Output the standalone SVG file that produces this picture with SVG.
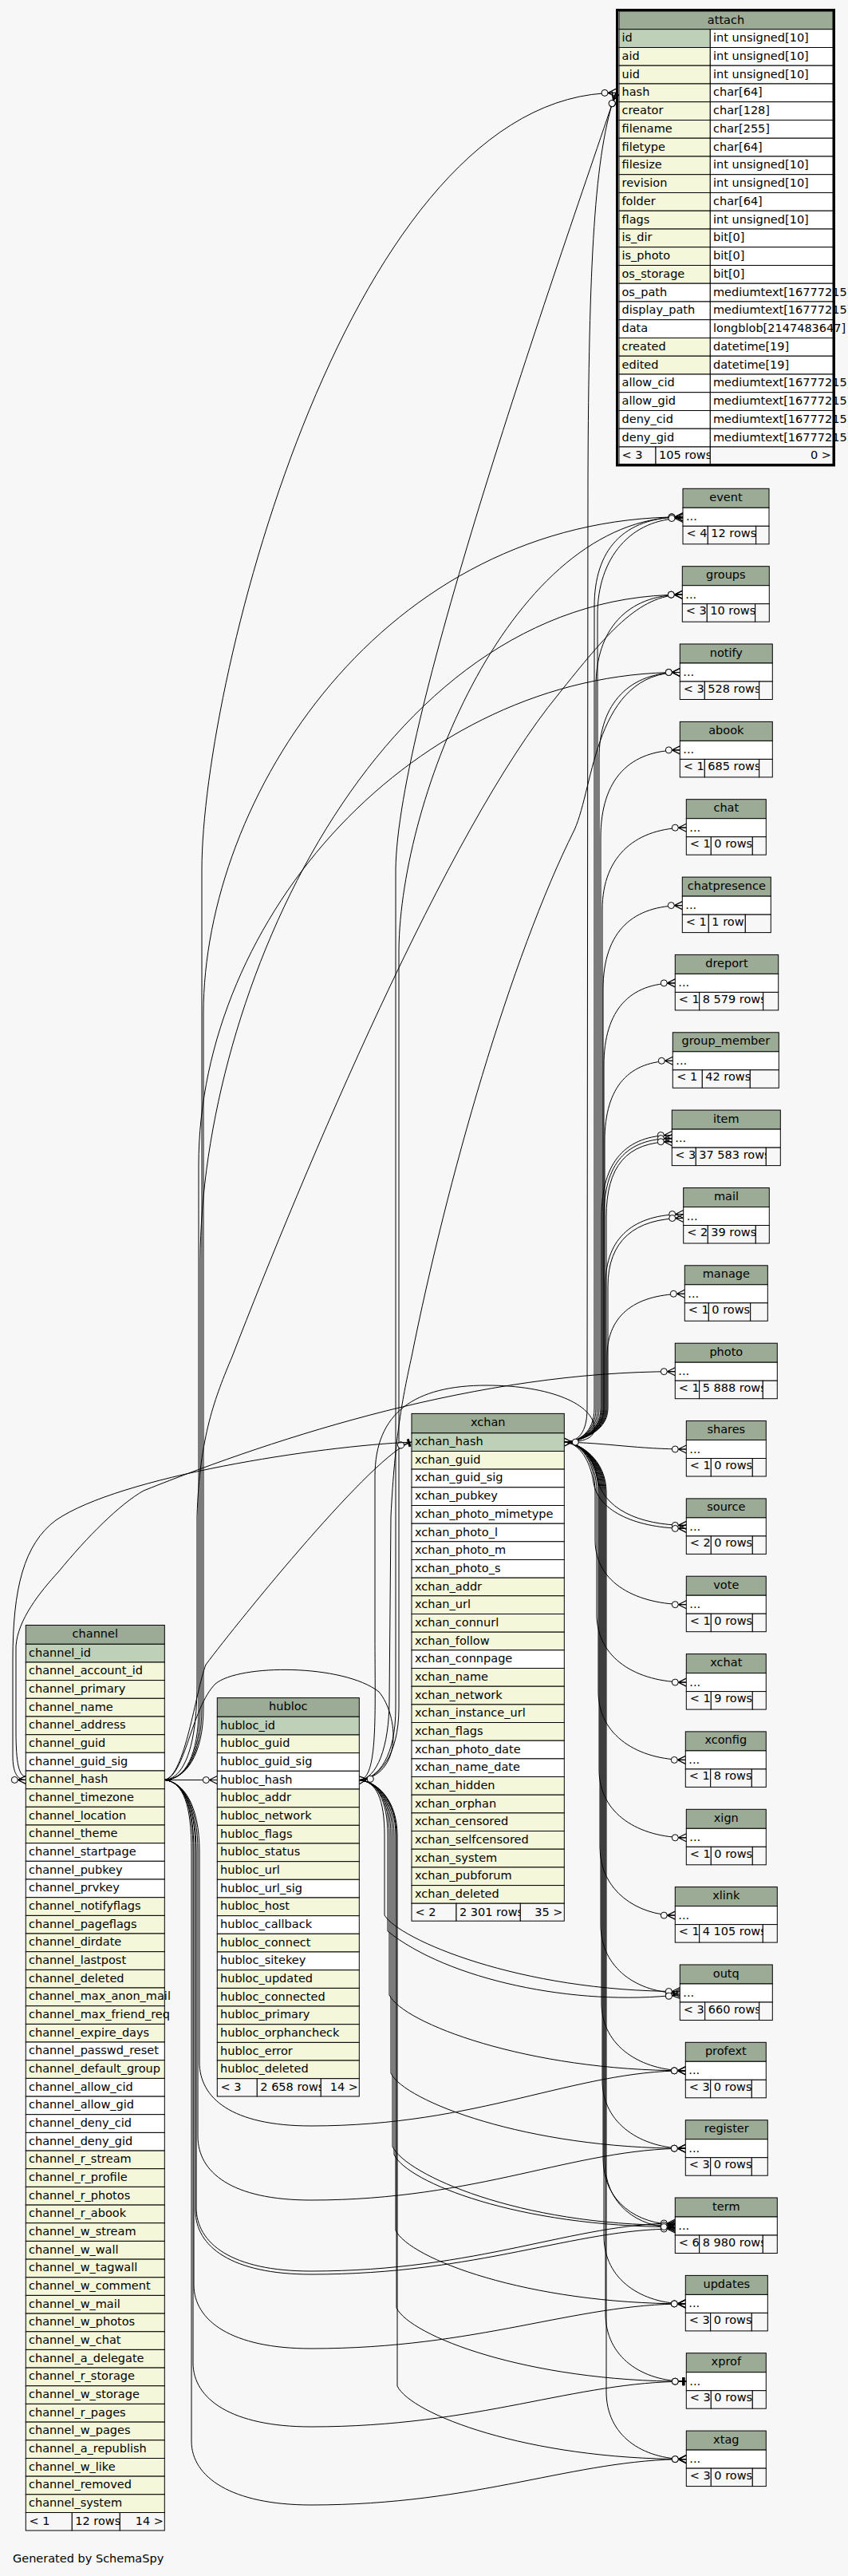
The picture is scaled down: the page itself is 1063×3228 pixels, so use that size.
<svg xmlns="http://www.w3.org/2000/svg" width="1063" height="3228" viewBox="0 0 1063 3228">
<style>
text{font-family:"DejaVu Sans","Liberation Sans",sans-serif;font-size:14.5px;fill:#000}
.c{text-anchor:middle}
.r{text-anchor:end}
.hd,.pk,.ix,.pl,.ft{stroke:#000;stroke-width:1}
.hd{fill:#9bab96}
.pk{fill:#bed1b8}
.ix{fill:#f4f7da}
.pl{fill:#fff}
.ft{fill:#f7f7f7}
.e{fill:none;stroke:#000;stroke-width:1;marker-end:url(#crow)}
.t{fill:none;stroke:#000;stroke-width:1;marker-end:url(#tee)}
.n{fill:none;stroke:#000;stroke-width:1}
</style>
<defs>
<marker id="crow" markerUnits="userSpaceOnUse" markerWidth="22" markerHeight="14" refX="20" refY="7" orient="auto" overflow="visible">
<path d="M10,7 L20,2 M10,7 L20,7 M10,7 L20,12" fill="none" stroke="#000" stroke-width="1.2"/>
<circle cx="6" cy="7" r="4" fill="#f7f7f7" stroke="#000" stroke-width="1"/>
</marker>
<marker id="tee" markerUnits="userSpaceOnUse" markerWidth="22" markerHeight="14" refX="20" refY="7" orient="auto" overflow="visible">
<path d="M10,7 L20,7" fill="none" stroke="#000"/>
<rect x="15" y="2" width="3" height="10" fill="#000" stroke="none"/>
<circle cx="6" cy="7" r="4" fill="#f7f7f7" stroke="#000" stroke-width="1"/>
</marker>
</defs>
<rect x="0" y="0" width="1063" height="3228" fill="#f7f7f7"/>

<g id="connectors">
<path class="e" d="M206.3,2230.4 C232,2230 253,2200 253,2140 L253,1090 C253,850 440,116.4 772,116.4"/>
<path class="e" d="M206.3,2230.4 C232,2230 255,2200 255,2140 L255,1270 C255,1000 480,647.8 856,647.8"/>
<path class="e" d="M206.3,2230.4 C232,2230 251,2200 251,2140 L251,1580 C251,1250 470,745.2 855.3,745.2"/>
<path class="e" d="M206.3,2230.4 C230,2229 247,2190 247,2110 L247,1900 C250,1800 270,1750 291,1700 C380,1470 560,1040 700,870 C760,795 800,745.2 855.3,745.2"/>
<path class="e" d="M206.3,2230.4 C232,2230 249,2200 249,2140 L249,1460 C249,1150 520,842.5 852.3,842.5"/>
<path class="e" d="M450.3,2230.6 C475,2229 496,2200 496,2140 L496,1090 C498,900 700,330 772,116.4"/>
<path class="e" d="M450.3,2230.6 C475,2229 500,2200 500,2140 L500,1190 C502,1000 640,647.8 856,647.8"/>
<path class="e" d="M450.3,2230.6 C472,2229 488,2190 488,2130 L490,1900 C495,1800 505,1750 516,1700 C560,1480 640,1200 720,1040 C745,985 745,842.5 852.3,842.5"/>
<path class="e" d="M707.3,1807.1 C725,1807 736,1795 736,1765 L737,600 C738,330 745,190 772,116.4"/>
<path class="e" d="M707.3,1807.1 C725,1807 745,1795 745,1765 L745,760 C745,690 780,647.8 856,647.8"/>
<path class="e" d="M707.3,1807.1 C725,1807 749,1795 749,1765 L749,770 C749,700 790,649.5 856,649.5"/>
<path class="e" d="M707.3,1807.1 C725,1807 747,1795 747,1765 L747,860 C747,790 785,745.2 855.3,745.2"/>
<path class="e" d="M707.3,1807.1 C725,1807 751,1795 751,1765 L751,950 C751,880 790,842.5 852.3,842.5"/>
<path class="e" d="M707.3,1807.1 C725,1807 753,1795 753,1765 L753,1050 C753,975 790,939.9 852.3,939.9"/>
<path class="e" d="M707.3,1807.1 C725,1807 755,1795 755,1765 L755,1140 C755,1070 800,1037.2 860.3,1037.2"/>
<path class="e" d="M707.3,1807.1 C725,1807 756,1795 756,1765 L756,1240 C756,1165 795,1134.6 855.3,1134.6"/>
<path class="e" d="M707.3,1807.1 C725,1807 757,1795 757,1765 L757,1335 C757,1265 790,1231.9 846.3,1231.9"/>
<path class="e" d="M707.3,1807.1 C725,1807 758,1795 758,1765 L758,1430 C758,1360 790,1329.3 843.3,1329.3"/>
<path class="e" d="M707.3,1807.1 C725,1807 754,1795 754,1765 L754,1525 C754,1455 785,1422.5 842.3,1422.5"/>
<path class="e" d="M707.3,1807.1 C725,1807 757,1795 757,1765 L757,1525 C757,1458 785,1426.6 842.3,1426.6"/>
<path class="e" d="M707.3,1807.1 C725,1807 760,1795 760,1765 L760,1525 C760,1462 785,1430.7 842.3,1430.7"/>
<path class="e" d="M707.3,1807.1 C725,1807 759,1795 759,1765 L759,1610 C759,1550 795,1521.5 856.7,1521.5"/>
<path class="e" d="M707.3,1807.1 C725,1807 762,1795 762,1765 L762,1612 C762,1555 795,1526.5 856.7,1526.5"/>
<path class="e" d="M707.3,1807.1 C725,1807 761,1795 761,1765 L761,1700 C761,1645 800,1621.3 858.3,1621.3"/>
<path class="e" d="M32.3,2226 C24,2226 20,2210 20,2170 L20,2063 C22,2030 50,1995 73,1970 C110,1925 150,1885 180,1868 C350,1800 600,1718.7 846.3,1718.7"/>
<path class="e" d="M707.3,1807.1 C760,1808 800,1816 860.3,1816"/>
<path class="e" d="M707.3,1807.1 C728,1808 744,1825 748,1850 C755,1890 800,1911.4 860.3,1911.4"/>
<path class="e" d="M707.3,1807.1 C726,1808 740,1830 744,1858 C750,1895 800,1915.4 860.3,1915.4"/>
<path class="e" d="M707.3,1807.1 C728,1808 746,1830 746,1870 L746,1930 C746,1985 800,2010.7 860.3,2010.7"/>
<path class="e" d="M707.3,1807.1 C728,1808 748,1830 748,1870 L748,2023 C748,2078 798,2108.1 860.3,2108.1"/>
<path class="e" d="M707.3,1807.1 C728,1808 750,1830 750,1870 L750,2120 C750,2175 800,2205.4 859.3,2205.4"/>
<path class="e" d="M707.3,1807.1 C728,1808 751,1830 751,1870 L751,2218 C751,2273 801,2302.8 860.3,2302.8"/>
<path class="e" d="M707.3,1807.1 C728,1808 752,1830 752,1870 L752,2315 C752,2370 800,2400.1 846.3,2400.1"/>
<path class="e" d="M707.3,1807.1 C728,1808 753,1830 753,1870 L753,2412 C753,2467 800,2497.5 852.3,2497.5"/>
<path class="e" d="M707.3,1807.1 C728,1808 754,1830 754,1870 L754,2510 C754,2565 805,2594.8 859.3,2594.8"/>
<path class="e" d="M707.3,1807.1 C728,1808 755,1830 755,1870 L755,2607 C755,2662 805,2692.2 859.3,2692.2"/>
<path class="e" d="M707.3,1807.1 C728,1808 756,1830 756,1870 L756,2705 C756,2760 800,2787.5 846.3,2787.5"/>
<path class="e" d="M707.3,1807.1 C728,1808 758,1830 758,1870 L758,2707 C758,2763 800,2791.5 846.3,2791.5"/>
<path class="e" d="M707.3,1807.1 C728,1808 757,1830 757,1870 L757,2802 C757,2857 805,2886.9 859.3,2886.9"/>
<path class="t" d="M707.3,1807.1 C728,1808 759,1830 759,1870 L759,2899 C759,2954 805,2984.2 860.3,2984.2"/>
<path class="e" d="M707.3,1807.1 C728,1808 760,1830 760,1870 L760,2997 C760,3052 805,3081.6 860.3,3081.6"/>
<path class="e" d="M206.3,2230.4 C230,2233 250,2262 250,2320 L250,2584 C250,2629 290,2664 390,2664 C600,2664 720,2594.8 859.3,2594.8"/>
<path class="e" d="M206.3,2230.4 C230,2233 248,2262 248,2320 L248,2677 C248,2722 290,2757 390,2757 C600,2757 720,2692.2 859.3,2692.2"/>
<path class="e" d="M206.3,2230.4 C230,2233 246,2262 246,2320 L246,2766 C246,2811 290,2846 390,2846 C600,2846 720,2786 846.3,2786"/>
<path class="e" d="M206.3,2230.4 C230,2233 245,2262 245,2320 L245,2770 C245,2815 290,2850 390,2850 C600,2850 720,2793 846.3,2793"/>
<path class="e" d="M206.3,2230.4 C230,2233 243,2262 243,2320 L243,2863 C243,2908 290,2943 390,2943 C600,2943 720,2886.9 859.3,2886.9"/>
<path class="t" d="M206.3,2230.4 C230,2233 242,2262 242,2320 L242,2961 C242,3006 290,3041 390,3041 C600,3041 720,2984.2 860.3,2984.2"/>
<path class="e" d="M206.3,2230.4 C230,2233 240,2262 240,2320 L240,3059 C240,3104 290,3139 390,3139 C600,3139 720,3081.6 860.3,3081.6"/>
<path class="e" d="M450.3,2230.6 C472,2232 482,2255 482,2300 L482,2400 C500,2430 650,2495.5 852.3,2495.5"/>
<path class="e" d="M450.3,2230.6 C472,2232 486,2255 486,2300 L486,2420 C560,2480 720,2515 852.3,2499.5"/>
<path class="e" d="M450.3,2230.6 C472,2232 488,2255 488,2300 L488,2500 C505,2535 660,2594.8 859.3,2594.8"/>
<path class="e" d="M450.3,2230.6 C472,2232 490,2255 490,2300 L490,2598 C507,2633 660,2692.2 859.3,2692.2"/>
<path class="e" d="M450.3,2230.6 C472,2232 492,2255 492,2300 L492,2690 C509,2725 650,2788.5 846.3,2788.5"/>
<path class="e" d="M450.3,2230.6 C472,2232 494,2255 494,2300 L494,2700 C511,2735 650,2790.5 846.3,2790.5"/>
<path class="e" d="M450.3,2230.6 C472,2232 496,2255 496,2300 L496,2795 C513,2830 660,2886.9 859.3,2886.9"/>
<path class="t" d="M450.3,2230.6 C472,2232 497,2255 497,2300 L497,2892 C514,2927 660,2984.2 860.3,2984.2"/>
<path class="e" d="M450.3,2230.6 C472,2232 498,2255 498,2300 L498,2990 C515,3025 660,3081.6 860.3,3081.6"/>
<path class="e" d="M206.3,2230.5 L272.3,2230.5"/>
<path class="e" d="M206.3,2230.4 C232,2226 240,2140 270,2110 C300,2085 430,2085 475,2120 C500,2150 505,2225 450.3,2230.6"/>
<path class="t" d="M206.3,2230.4 C232,2226 245,2120 258,2086 C300,2030 470,1820 516,1807.1"/>
<path class="e" d="M450.3,2230.6 C474,2229 470,2150 470,2050 L470,1850 C470,1770 520,1736 610,1736 C690,1736 745,1760 745,1790 C745,1803 730,1807.1 707.3,1807.1"/>
<path class="e" d="M516,1807.1 C400,1812 150,1850 70,1905 C30,1935 16,1990 16,2080 L16,2200 C16,2222 22,2230.4 32.3,2230.4"/>
</g>

<g id="attach">
<rect class="hd" x="776" y="14" width="268" height="22.7"/>
<text class="c" x="910" y="29.5">attach</text>
<rect class="pk" x="776" y="36.7" width="114.3" height="22.8"/><rect class="pl" x="890.3" y="36.7" width="153.7" height="22.8"/><text x="779.5" y="52">id</text><text x="894" y="52">int unsigned[10]</text>
<rect class="ix" x="776" y="59.5" width="114.3" height="22.7"/><rect class="pl" x="890.3" y="59.5" width="153.7" height="22.7"/><text x="779.5" y="74.8">aid</text><text x="894" y="74.8">int unsigned[10]</text>
<rect class="ix" x="776" y="82.2" width="114.3" height="22.8"/><rect class="pl" x="890.3" y="82.2" width="153.7" height="22.8"/><text x="779.5" y="97.5">uid</text><text x="894" y="97.5">int unsigned[10]</text>
<rect class="ix" x="776" y="105" width="114.3" height="22.7"/><rect class="pl" x="890.3" y="105" width="153.7" height="22.7"/><text x="779.5" y="120.3">hash</text><text x="894" y="120.3">char[64]</text>
<rect class="ix" x="776" y="127.7" width="114.3" height="22.8"/><rect class="pl" x="890.3" y="127.7" width="153.7" height="22.8"/><text x="779.5" y="143">creator</text><text x="894" y="143">char[128]</text>
<rect class="ix" x="776" y="150.5" width="114.3" height="22.7"/><rect class="pl" x="890.3" y="150.5" width="153.7" height="22.7"/><text x="779.5" y="165.8">filename</text><text x="894" y="165.8">char[255]</text>
<rect class="ix" x="776" y="173.2" width="114.3" height="22.8"/><rect class="pl" x="890.3" y="173.2" width="153.7" height="22.8"/><text x="779.5" y="188.5">filetype</text><text x="894" y="188.5">char[64]</text>
<rect class="ix" x="776" y="196" width="114.3" height="22.7"/><rect class="pl" x="890.3" y="196" width="153.7" height="22.7"/><text x="779.5" y="211.3">filesize</text><text x="894" y="211.3">int unsigned[10]</text>
<rect class="ix" x="776" y="218.7" width="114.3" height="22.8"/><rect class="pl" x="890.3" y="218.7" width="153.7" height="22.8"/><text x="779.5" y="234">revision</text><text x="894" y="234">int unsigned[10]</text>
<rect class="ix" x="776" y="241.5" width="114.3" height="22.7"/><rect class="pl" x="890.3" y="241.5" width="153.7" height="22.7"/><text x="779.5" y="256.8">folder</text><text x="894" y="256.8">char[64]</text>
<rect class="ix" x="776" y="264.2" width="114.3" height="22.8"/><rect class="pl" x="890.3" y="264.2" width="153.7" height="22.8"/><text x="779.5" y="279.5">flags</text><text x="894" y="279.5">int unsigned[10]</text>
<rect class="ix" x="776" y="287" width="114.3" height="22.7"/><rect class="pl" x="890.3" y="287" width="153.7" height="22.7"/><text x="779.5" y="302.3">is_dir</text><text x="894" y="302.3">bit[0]</text>
<rect class="ix" x="776" y="309.7" width="114.3" height="22.8"/><rect class="pl" x="890.3" y="309.7" width="153.7" height="22.8"/><text x="779.5" y="325">is_photo</text><text x="894" y="325">bit[0]</text>
<rect class="ix" x="776" y="332.5" width="114.3" height="22.7"/><rect class="pl" x="890.3" y="332.5" width="153.7" height="22.7"/><text x="779.5" y="347.8">os_storage</text><text x="894" y="347.8">bit[0]</text>
<rect class="pl" x="776" y="355.2" width="114.3" height="22.8"/><rect class="pl" x="890.3" y="355.2" width="153.7" height="22.8"/><text x="779.5" y="370.5">os_path</text><text x="894" y="370.5">mediumtext[16777215]</text>
<rect class="pl" x="776" y="378" width="114.3" height="22.7"/><rect class="pl" x="890.3" y="378" width="153.7" height="22.7"/><text x="779.5" y="393.3">display_path</text><text x="894" y="393.3">mediumtext[16777215]</text>
<rect class="pl" x="776" y="400.7" width="114.3" height="22.8"/><rect class="pl" x="890.3" y="400.7" width="153.7" height="22.8"/><text x="779.5" y="416">data</text><text x="894" y="416">longblob[2147483647]</text>
<rect class="ix" x="776" y="423.5" width="114.3" height="22.7"/><rect class="pl" x="890.3" y="423.5" width="153.7" height="22.7"/><text x="779.5" y="438.8">created</text><text x="894" y="438.8">datetime[19]</text>
<rect class="ix" x="776" y="446.2" width="114.3" height="22.8"/><rect class="pl" x="890.3" y="446.2" width="153.7" height="22.8"/><text x="779.5" y="461.5">edited</text><text x="894" y="461.5">datetime[19]</text>
<rect class="pl" x="776" y="469" width="114.3" height="22.7"/><rect class="pl" x="890.3" y="469" width="153.7" height="22.7"/><text x="779.5" y="484.3">allow_cid</text><text x="894" y="484.3">mediumtext[16777215]</text>
<rect class="pl" x="776" y="491.7" width="114.3" height="22.8"/><rect class="pl" x="890.3" y="491.7" width="153.7" height="22.8"/><text x="779.5" y="507">allow_gid</text><text x="894" y="507">mediumtext[16777215]</text>
<rect class="pl" x="776" y="514.5" width="114.3" height="22.7"/><rect class="pl" x="890.3" y="514.5" width="153.7" height="22.7"/><text x="779.5" y="529.8">deny_cid</text><text x="894" y="529.8">mediumtext[16777215]</text>
<rect class="pl" x="776" y="537.2" width="114.3" height="22.8"/><rect class="pl" x="890.3" y="537.2" width="153.7" height="22.8"/><text x="779.5" y="552.5">deny_gid</text><text x="894" y="552.5">mediumtext[16777215]</text>
<rect class="ft" x="776" y="560" width="46" height="21.7"/><text x="779.5" y="575">&lt; 3</text>
<rect class="ft" x="822" y="560" width="68.3" height="21.7"/><text x="826" y="575">105 rows</text>
<rect class="ft" x="890.3" y="560" width="153.7" height="21.7"/><text class="r" x="1042" y="575">0 &gt;</text>
<rect x="773.5" y="12.5" width="272" height="570.5" fill="none" stroke="#000" stroke-width="3"/>
</g>

<g id="event"><rect class="hd" x="856" y="612.3" width="108" height="24"/><text class="c" x="910" y="627.8">event</text><rect class="pl" x="856" y="636.3" width="108" height="23"/><text x="860" y="652.3">...</text><rect class="ft" x="856" y="659.3" width="31.3" height="22.5"/><text x="860.5" y="672.8">&lt; 4</text><rect class="ft" x="887.3" y="659.3" width="60.4" height="22.5"/><text x="891.3" y="672.8">12 rows</text><rect class="ft" x="947.7" y="659.3" width="16.3" height="22.5"/></g>
<g id="groups"><rect class="hd" x="855.3" y="709.7" width="109" height="24"/><text class="c" x="909.8" y="725.2">groups</text><rect class="pl" x="855.3" y="733.7" width="109" height="23"/><text x="859.3" y="749.7">...</text><rect class="ft" x="855.3" y="756.7" width="31" height="22.5"/><text x="859.8" y="770.2">&lt; 3</text><rect class="ft" x="886.3" y="756.7" width="60.4" height="22.5"/><text x="890.3" y="770.2">10 rows</text><rect class="ft" x="946.7" y="756.7" width="17.6" height="22.5"/></g>
<g id="notify"><rect class="hd" x="852.3" y="807" width="116" height="24"/><text class="c" x="910.3" y="822.5">notify</text><rect class="pl" x="852.3" y="831" width="116" height="23"/><text x="856.3" y="847">...</text><rect class="ft" x="852.3" y="854" width="31" height="22.5"/><text x="856.8" y="867.5">&lt; 3</text><rect class="ft" x="883.3" y="854" width="68.4" height="22.5"/><text x="887.3" y="867.5">528 rows</text><rect class="ft" x="951.7" y="854" width="16.6" height="22.5"/></g>
<g id="abook"><rect class="hd" x="852.3" y="904.4" width="116" height="24"/><text class="c" x="910.3" y="919.9">abook</text><rect class="pl" x="852.3" y="928.4" width="116" height="23"/><text x="856.3" y="944.4">...</text><rect class="ft" x="852.3" y="951.4" width="31" height="22.5"/><text x="856.8" y="964.9">&lt; 1</text><rect class="ft" x="883.3" y="951.4" width="68.4" height="22.5"/><text x="887.3" y="964.9">685 rows</text><rect class="ft" x="951.7" y="951.4" width="16.6" height="22.5"/></g>
<g id="chat"><rect class="hd" x="860.3" y="1001.7" width="100" height="24"/><text class="c" x="910.3" y="1017.2">chat</text><rect class="pl" x="860.3" y="1025.7" width="100" height="23"/><text x="864.3" y="1041.7">...</text><rect class="ft" x="860.3" y="1048.7" width="31" height="22.5"/><text x="864.8" y="1062.2">&lt; 1</text><rect class="ft" x="891.3" y="1048.7" width="52" height="22.5"/><text x="895.3" y="1062.2">0 rows</text><rect class="ft" x="943.3" y="1048.7" width="17" height="22.5"/></g>
<g id="chatpresence"><rect class="hd" x="855.3" y="1099.1" width="111" height="24"/><text class="c" x="910.8" y="1114.6">chatpresence</text><rect class="pl" x="855.3" y="1123.1" width="111" height="23"/><text x="859.3" y="1139.1">...</text><rect class="ft" x="855.3" y="1146.1" width="33" height="22.5"/><text x="859.8" y="1159.6">&lt; 1</text><rect class="ft" x="888.3" y="1146.1" width="46" height="22.5"/><text x="892.3" y="1159.6">1 row</text><rect class="ft" x="934.3" y="1146.1" width="32" height="22.5"/></g>
<g id="dreport"><rect class="hd" x="846.3" y="1196.4" width="129.4" height="24"/><text class="c" x="911" y="1211.9">dreport</text><rect class="pl" x="846.3" y="1220.4" width="129.4" height="23"/><text x="850.3" y="1236.4">...</text><rect class="ft" x="846.3" y="1243.4" width="30.4" height="22.5"/><text x="850.8" y="1256.9">&lt; 1</text><rect class="ft" x="876.7" y="1243.4" width="80" height="22.5"/><text x="880.7" y="1256.9">8 579 rows</text><rect class="ft" x="956.7" y="1243.4" width="19" height="22.5"/></g>
<g id="group_member"><rect class="hd" x="843.3" y="1293.8" width="133" height="24"/><text class="c" x="909.8" y="1309.3">group_member</text><rect class="pl" x="843.3" y="1317.8" width="133" height="23"/><text x="847.3" y="1333.8">...</text><rect class="ft" x="843.3" y="1340.8" width="37" height="22.5"/><text x="848.3" y="1354.3">&lt; 1</text><rect class="ft" x="880.3" y="1340.8" width="60" height="22.5"/><text x="884.3" y="1354.3">42 rows</text><rect class="ft" x="940.3" y="1340.8" width="36" height="22.5"/></g>
<g id="item"><rect class="hd" x="842.3" y="1391.1" width="136" height="24"/><text class="c" x="910.3" y="1406.6">item</text><rect class="pl" x="842.3" y="1415.1" width="136" height="23"/><text x="846.3" y="1431.1">...</text><rect class="ft" x="842.3" y="1438.1" width="30" height="22.5"/><text x="846.3" y="1451.6">&lt; 3</text><rect class="ft" x="872.3" y="1438.1" width="88" height="22.5"/><text x="876.3" y="1451.6">37 583 rows</text><rect class="ft" x="960.3" y="1438.1" width="18" height="22.5"/></g>
<g id="mail"><rect class="hd" x="856.7" y="1488.5" width="107.6" height="24"/><text class="c" x="910.5" y="1504">mail</text><rect class="pl" x="856.7" y="1512.5" width="107.6" height="23"/><text x="860.7" y="1528.5">...</text><rect class="ft" x="856.7" y="1535.5" width="30.6" height="22.5"/><text x="861.2" y="1549">&lt; 2</text><rect class="ft" x="887.3" y="1535.5" width="60" height="22.5"/><text x="891.3" y="1549">39 rows</text><rect class="ft" x="947.3" y="1535.5" width="17" height="22.5"/></g>
<g id="manage"><rect class="hd" x="858.3" y="1585.8" width="104" height="24"/><text class="c" x="910.3" y="1601.3">manage</text><rect class="pl" x="858.3" y="1609.8" width="104" height="23"/><text x="862.3" y="1625.8">...</text><rect class="ft" x="858.3" y="1632.8" width="30" height="22.5"/><text x="862.8" y="1646.3">&lt; 1</text><rect class="ft" x="888.3" y="1632.8" width="52.4" height="22.5"/><text x="892.3" y="1646.3">0 rows</text><rect class="ft" x="940.7" y="1632.8" width="21.6" height="22.5"/></g>
<g id="photo"><rect class="hd" x="846.3" y="1683.2" width="128" height="24"/><text class="c" x="910.3" y="1698.7">photo</text><rect class="pl" x="846.3" y="1707.2" width="128" height="23"/><text x="850.3" y="1723.2">...</text><rect class="ft" x="846.3" y="1730.2" width="30.4" height="22.5"/><text x="850.8" y="1743.7">&lt; 1</text><rect class="ft" x="876.7" y="1730.2" width="79.6" height="22.5"/><text x="880.7" y="1743.7">5 888 rows</text><rect class="ft" x="956.3" y="1730.2" width="18" height="22.5"/></g>
<g id="shares"><rect class="hd" x="860.3" y="1780.5" width="100" height="24"/><text class="c" x="910.3" y="1796">shares</text><rect class="pl" x="860.3" y="1804.5" width="100" height="23"/><text x="864.3" y="1820.5">...</text><rect class="ft" x="860.3" y="1827.5" width="31" height="22.5"/><text x="864.8" y="1841">&lt; 1</text><rect class="ft" x="891.3" y="1827.5" width="52" height="22.5"/><text x="895.3" y="1841">0 rows</text><rect class="ft" x="943.3" y="1827.5" width="17" height="22.5"/></g>
<g id="source"><rect class="hd" x="860.3" y="1877.9" width="100" height="24"/><text class="c" x="910.3" y="1893.4">source</text><rect class="pl" x="860.3" y="1901.9" width="100" height="23"/><text x="864.3" y="1917.9">...</text><rect class="ft" x="860.3" y="1924.9" width="31" height="22.5"/><text x="864.8" y="1938.4">&lt; 2</text><rect class="ft" x="891.3" y="1924.9" width="52" height="22.5"/><text x="895.3" y="1938.4">0 rows</text><rect class="ft" x="943.3" y="1924.9" width="17" height="22.5"/></g>
<g id="vote"><rect class="hd" x="860.3" y="1975.2" width="100" height="24"/><text class="c" x="910.3" y="1990.7">vote</text><rect class="pl" x="860.3" y="1999.2" width="100" height="23"/><text x="864.3" y="2015.2">...</text><rect class="ft" x="860.3" y="2022.2" width="31" height="22.5"/><text x="864.8" y="2035.7">&lt; 1</text><rect class="ft" x="891.3" y="2022.2" width="52" height="22.5"/><text x="895.3" y="2035.7">0 rows</text><rect class="ft" x="943.3" y="2022.2" width="17" height="22.5"/></g>
<g id="xchat"><rect class="hd" x="860.3" y="2072.6" width="100" height="24"/><text class="c" x="910.3" y="2088.1">xchat</text><rect class="pl" x="860.3" y="2096.6" width="100" height="23"/><text x="864.3" y="2112.6">...</text><rect class="ft" x="860.3" y="2119.6" width="31" height="22.5"/><text x="864.8" y="2133.1">&lt; 1</text><rect class="ft" x="891.3" y="2119.6" width="52" height="22.5"/><text x="895.3" y="2133.1">9 rows</text><rect class="ft" x="943.3" y="2119.6" width="17" height="22.5"/></g>
<g id="xconfig"><rect class="hd" x="859.3" y="2169.9" width="101" height="24"/><text class="c" x="909.8" y="2185.4">xconfig</text><rect class="pl" x="859.3" y="2193.9" width="101" height="23"/><text x="863.3" y="2209.9">...</text><rect class="ft" x="859.3" y="2216.9" width="31.4" height="22.5"/><text x="863.8" y="2230.4">&lt; 1</text><rect class="ft" x="890.7" y="2216.9" width="51.6" height="22.5"/><text x="894.7" y="2230.4">8 rows</text><rect class="ft" x="942.3" y="2216.9" width="18" height="22.5"/></g>
<g id="xign"><rect class="hd" x="860.3" y="2267.3" width="100" height="24"/><text class="c" x="910.3" y="2282.8">xign</text><rect class="pl" x="860.3" y="2291.3" width="100" height="23"/><text x="864.3" y="2307.3">...</text><rect class="ft" x="860.3" y="2314.3" width="31" height="22.5"/><text x="864.8" y="2327.8">&lt; 1</text><rect class="ft" x="891.3" y="2314.3" width="52" height="22.5"/><text x="895.3" y="2327.8">0 rows</text><rect class="ft" x="943.3" y="2314.3" width="17" height="22.5"/></g>
<g id="xlink"><rect class="hd" x="846.3" y="2364.6" width="128" height="24"/><text class="c" x="910.3" y="2380.1">xlink</text><rect class="pl" x="846.3" y="2388.6" width="128" height="23"/><text x="850.3" y="2404.6">...</text><rect class="ft" x="846.3" y="2411.6" width="30.4" height="22.5"/><text x="850.8" y="2425.1">&lt; 1</text><rect class="ft" x="876.7" y="2411.6" width="79.6" height="22.5"/><text x="880.7" y="2425.1">4 105 rows</text><rect class="ft" x="956.3" y="2411.6" width="18" height="22.5"/></g>
<g id="outq"><rect class="hd" x="852.3" y="2462" width="116" height="24"/><text class="c" x="910.3" y="2477.5">outq</text><rect class="pl" x="852.3" y="2486" width="116" height="23"/><text x="856.3" y="2502">...</text><rect class="ft" x="852.3" y="2509" width="31.4" height="22.5"/><text x="856.8" y="2522.5">&lt; 3</text><rect class="ft" x="883.7" y="2509" width="68" height="22.5"/><text x="887.7" y="2522.5">660 rows</text><rect class="ft" x="951.7" y="2509" width="16.6" height="22.5"/></g>
<g id="profext"><rect class="hd" x="859.3" y="2559.3" width="101" height="24"/><text class="c" x="909.8" y="2574.8">profext</text><rect class="pl" x="859.3" y="2583.3" width="101" height="23"/><text x="863.3" y="2599.3">...</text><rect class="ft" x="859.3" y="2606.3" width="31.4" height="22.5"/><text x="863.8" y="2619.8">&lt; 3</text><rect class="ft" x="890.7" y="2606.3" width="51.6" height="22.5"/><text x="894.7" y="2619.8">0 rows</text><rect class="ft" x="942.3" y="2606.3" width="18" height="22.5"/></g>
<g id="register"><rect class="hd" x="859.3" y="2656.7" width="103" height="24"/><text class="c" x="910.8" y="2672.2">register</text><rect class="pl" x="859.3" y="2680.7" width="103" height="23"/><text x="863.3" y="2696.7">...</text><rect class="ft" x="859.3" y="2703.7" width="31.4" height="22.5"/><text x="863.8" y="2717.2">&lt; 3</text><rect class="ft" x="890.7" y="2703.7" width="51.6" height="22.5"/><text x="894.7" y="2717.2">0 rows</text><rect class="ft" x="942.3" y="2703.7" width="20" height="22.5"/></g>
<g id="term"><rect class="hd" x="846.3" y="2754" width="128" height="24"/><text class="c" x="910.3" y="2769.5">term</text><rect class="pl" x="846.3" y="2778" width="128" height="23"/><text x="850.3" y="2794">...</text><rect class="ft" x="846.3" y="2801" width="30.4" height="22.5"/><text x="850.8" y="2814.5">&lt; 6</text><rect class="ft" x="876.7" y="2801" width="79.6" height="22.5"/><text x="880.7" y="2814.5">8 980 rows</text><rect class="ft" x="956.3" y="2801" width="18" height="22.5"/></g>
<g id="updates"><rect class="hd" x="859.3" y="2851.4" width="103" height="24"/><text class="c" x="910.8" y="2866.9">updates</text><rect class="pl" x="859.3" y="2875.4" width="103" height="23"/><text x="863.3" y="2891.4">...</text><rect class="ft" x="859.3" y="2898.4" width="31.4" height="22.5"/><text x="863.8" y="2911.9">&lt; 3</text><rect class="ft" x="890.7" y="2898.4" width="51.6" height="22.5"/><text x="894.7" y="2911.9">0 rows</text><rect class="ft" x="942.3" y="2898.4" width="20" height="22.5"/></g>
<g id="xprof"><rect class="hd" x="860.3" y="2948.7" width="100" height="24"/><text class="c" x="910.3" y="2964.2">xprof</text><rect class="pl" x="860.3" y="2972.7" width="100" height="23"/><text x="864.3" y="2988.7">...</text><rect class="ft" x="860.3" y="2995.7" width="31" height="22.5"/><text x="864.8" y="3009.2">&lt; 3</text><rect class="ft" x="891.3" y="2995.7" width="52" height="22.5"/><text x="895.3" y="3009.2">0 rows</text><rect class="ft" x="943.3" y="2995.7" width="17" height="22.5"/></g>
<g id="xtag"><rect class="hd" x="860.3" y="3046.1" width="100" height="24"/><text class="c" x="910.3" y="3061.6">xtag</text><rect class="pl" x="860.3" y="3070.1" width="100" height="23"/><text x="864.3" y="3086.1">...</text><rect class="ft" x="860.3" y="3093.1" width="31" height="22.5"/><text x="864.8" y="3106.6">&lt; 3</text><rect class="ft" x="891.3" y="3093.1" width="52" height="22.5"/><text x="895.3" y="3106.6">0 rows</text><rect class="ft" x="943.3" y="3093.1" width="17" height="22.5"/></g>

<g id="xchan">
<rect class="hd" x="516" y="1771.4" width="191.3" height="24.4"/><text class="c" x="611.7" y="1787">xchan</text>
<rect class="pk" x="516" y="1795.8" width="191.3" height="22.7"/><text x="520" y="1811.1">xchan_hash</text>
<rect class="ix" x="516" y="1818.5" width="191.3" height="22.6"/><text x="520" y="1833.8">xchan_guid</text>
<rect class="pl" x="516" y="1841.1" width="191.3" height="22.7"/><text x="520" y="1856.4">xchan_guid_sig</text>
<rect class="pl" x="516" y="1863.8" width="191.3" height="22.7"/><text x="520" y="1879.1">xchan_pubkey</text>
<rect class="pl" x="516" y="1886.5" width="191.3" height="22.7"/><text x="520" y="1901.8">xchan_photo_mimetype</text>
<rect class="pl" x="516" y="1909.2" width="191.3" height="22.6"/><text x="520" y="1924.5">xchan_photo_l</text>
<rect class="pl" x="516" y="1931.8" width="191.3" height="22.7"/><text x="520" y="1947.1">xchan_photo_m</text>
<rect class="pl" x="516" y="1954.5" width="191.3" height="22.7"/><text x="520" y="1969.8">xchan_photo_s</text>
<rect class="ix" x="516" y="1977.2" width="191.3" height="22.6"/><text x="520" y="1992.5">xchan_addr</text>
<rect class="ix" x="516" y="1999.8" width="191.3" height="22.7"/><text x="520" y="2015.1">xchan_url</text>
<rect class="ix" x="516" y="2022.5" width="191.3" height="22.7"/><text x="520" y="2037.8">xchan_connurl</text>
<rect class="ix" x="516" y="2045.2" width="191.3" height="22.6"/><text x="520" y="2060.5">xchan_follow</text>
<rect class="pl" x="516" y="2067.8" width="191.3" height="22.7"/><text x="520" y="2083.1">xchan_connpage</text>
<rect class="ix" x="516" y="2090.5" width="191.3" height="22.7"/><text x="520" y="2105.8">xchan_name</text>
<rect class="ix" x="516" y="2113.2" width="191.3" height="22.7"/><text x="520" y="2128.5">xchan_network</text>
<rect class="ix" x="516" y="2135.9" width="191.3" height="22.6"/><text x="520" y="2151.2">xchan_instance_url</text>
<rect class="ix" x="516" y="2158.5" width="191.3" height="22.7"/><text x="520" y="2173.8">xchan_flags</text>
<rect class="pl" x="516" y="2181.2" width="191.3" height="22.7"/><text x="520" y="2196.5">xchan_photo_date</text>
<rect class="pl" x="516" y="2203.9" width="191.3" height="22.6"/><text x="520" y="2219.2">xchan_name_date</text>
<rect class="ix" x="516" y="2226.5" width="191.3" height="22.7"/><text x="520" y="2241.8">xchan_hidden</text>
<rect class="ix" x="516" y="2249.2" width="191.3" height="22.7"/><text x="520" y="2264.5">xchan_orphan</text>
<rect class="ix" x="516" y="2271.9" width="191.3" height="22.6"/><text x="520" y="2287.2">xchan_censored</text>
<rect class="ix" x="516" y="2294.5" width="191.3" height="22.7"/><text x="520" y="2309.8">xchan_selfcensored</text>
<rect class="ix" x="516" y="2317.2" width="191.3" height="22.7"/><text x="520" y="2332.5">xchan_system</text>
<rect class="ix" x="516" y="2339.9" width="191.3" height="22.7"/><text x="520" y="2355.2">xchan_pubforum</text>
<rect class="ix" x="516" y="2362.6" width="191.3" height="22.6"/><text x="520" y="2377.9">xchan_deleted</text>
<rect class="ft" x="516" y="2385.2" width="56" height="22"/><text x="520.5" y="2400.5">&lt; 2</text>
<rect class="ft" x="572" y="2385.2" width="80.3" height="22"/><text x="576" y="2400.5">2 301 rows</text>
<rect class="ft" x="652.3" y="2385.2" width="55" height="22"/><text class="r" x="705.5" y="2400.5">35 &gt;</text>
</g>

<g id="channel">
<rect class="hd" x="32.3" y="2036.5" width="174" height="23.8"/><text class="c" x="119.3" y="2052">channel</text>
<rect class="pk" x="32.3" y="2060.3" width="174" height="22.7"/><text x="36" y="2075.6">channel_id</text>
<rect class="ix" x="32.3" y="2083" width="174" height="22.6"/><text x="36" y="2098.3">channel_account_id</text>
<rect class="ix" x="32.3" y="2105.6" width="174" height="22.7"/><text x="36" y="2120.9">channel_primary</text>
<rect class="ix" x="32.3" y="2128.3" width="174" height="22.7"/><text x="36" y="2143.6">channel_name</text>
<rect class="ix" x="32.3" y="2151" width="174" height="22.7"/><text x="36" y="2166.3">channel_address</text>
<rect class="ix" x="32.3" y="2173.7" width="174" height="22.6"/><text x="36" y="2189">channel_guid</text>
<rect class="pl" x="32.3" y="2196.3" width="174" height="22.7"/><text x="36" y="2211.6">channel_guid_sig</text>
<rect class="ix" x="32.3" y="2219" width="174" height="22.7"/><text x="36" y="2234.3">channel_hash</text>
<rect class="ix" x="32.3" y="2241.7" width="174" height="22.6"/><text x="36" y="2257">channel_timezone</text>
<rect class="ix" x="32.3" y="2264.3" width="174" height="22.7"/><text x="36" y="2279.6">channel_location</text>
<rect class="ix" x="32.3" y="2287" width="174" height="22.7"/><text x="36" y="2302.3">channel_theme</text>
<rect class="pl" x="32.3" y="2309.7" width="174" height="22.6"/><text x="36" y="2325">channel_startpage</text>
<rect class="pl" x="32.3" y="2332.3" width="174" height="22.7"/><text x="36" y="2347.6">channel_pubkey</text>
<rect class="pl" x="32.3" y="2355" width="174" height="22.7"/><text x="36" y="2370.3">channel_prvkey</text>
<rect class="ix" x="32.3" y="2377.7" width="174" height="22.7"/><text x="36" y="2393">channel_notifyflags</text>
<rect class="ix" x="32.3" y="2400.4" width="174" height="22.6"/><text x="36" y="2415.7">channel_pageflags</text>
<rect class="ix" x="32.3" y="2423" width="174" height="22.7"/><text x="36" y="2438.3">channel_dirdate</text>
<rect class="ix" x="32.3" y="2445.7" width="174" height="22.7"/><text x="36" y="2461">channel_lastpost</text>
<rect class="ix" x="32.3" y="2468.4" width="174" height="22.6"/><text x="36" y="2483.7">channel_deleted</text>
<rect class="ix" x="32.3" y="2491" width="174" height="22.7"/><text x="36" y="2506.3">channel_max_anon_mail</text>
<rect class="ix" x="32.3" y="2513.7" width="174" height="22.7"/><text x="36" y="2529">channel_max_friend_req</text>
<rect class="ix" x="32.3" y="2536.4" width="174" height="22.6"/><text x="36" y="2551.7">channel_expire_days</text>
<rect class="pl" x="32.3" y="2559" width="174" height="22.7"/><text x="36" y="2574.3">channel_passwd_reset</text>
<rect class="ix" x="32.3" y="2581.7" width="174" height="22.7"/><text x="36" y="2597">channel_default_group</text>
<rect class="pl" x="32.3" y="2604.4" width="174" height="22.7"/><text x="36" y="2619.7">channel_allow_cid</text>
<rect class="pl" x="32.3" y="2627.1" width="174" height="22.6"/><text x="36" y="2642.4">channel_allow_gid</text>
<rect class="pl" x="32.3" y="2649.7" width="174" height="22.7"/><text x="36" y="2665">channel_deny_cid</text>
<rect class="pl" x="32.3" y="2672.4" width="174" height="22.7"/><text x="36" y="2687.7">channel_deny_gid</text>
<rect class="ix" x="32.3" y="2695.1" width="174" height="22.6"/><text x="36" y="2710.4">channel_r_stream</text>
<rect class="ix" x="32.3" y="2717.7" width="174" height="22.7"/><text x="36" y="2733">channel_r_profile</text>
<rect class="ix" x="32.3" y="2740.4" width="174" height="22.7"/><text x="36" y="2755.7">channel_r_photos</text>
<rect class="ix" x="32.3" y="2763.1" width="174" height="22.6"/><text x="36" y="2778.4">channel_r_abook</text>
<rect class="ix" x="32.3" y="2785.7" width="174" height="22.7"/><text x="36" y="2801">channel_w_stream</text>
<rect class="ix" x="32.3" y="2808.4" width="174" height="22.7"/><text x="36" y="2823.7">channel_w_wall</text>
<rect class="ix" x="32.3" y="2831.1" width="174" height="22.7"/><text x="36" y="2846.4">channel_w_tagwall</text>
<rect class="ix" x="32.3" y="2853.8" width="174" height="22.6"/><text x="36" y="2869.1">channel_w_comment</text>
<rect class="ix" x="32.3" y="2876.4" width="174" height="22.7"/><text x="36" y="2891.7">channel_w_mail</text>
<rect class="ix" x="32.3" y="2899.1" width="174" height="22.7"/><text x="36" y="2914.4">channel_w_photos</text>
<rect class="ix" x="32.3" y="2921.8" width="174" height="22.6"/><text x="36" y="2937.1">channel_w_chat</text>
<rect class="ix" x="32.3" y="2944.4" width="174" height="22.7"/><text x="36" y="2959.7">channel_a_delegate</text>
<rect class="ix" x="32.3" y="2967.1" width="174" height="22.7"/><text x="36" y="2982.4">channel_r_storage</text>
<rect class="ix" x="32.3" y="2989.8" width="174" height="22.6"/><text x="36" y="3005.1">channel_w_storage</text>
<rect class="ix" x="32.3" y="3012.4" width="174" height="22.7"/><text x="36" y="3027.7">channel_r_pages</text>
<rect class="ix" x="32.3" y="3035.1" width="174" height="22.7"/><text x="36" y="3050.4">channel_w_pages</text>
<rect class="ix" x="32.3" y="3057.8" width="174" height="22.7"/><text x="36" y="3073.1">channel_a_republish</text>
<rect class="ix" x="32.3" y="3080.5" width="174" height="22.6"/><text x="36" y="3095.8">channel_w_like</text>
<rect class="ix" x="32.3" y="3103.1" width="174" height="22.7"/><text x="36" y="3118.4">channel_removed</text>
<rect class="ix" x="32.3" y="3125.8" width="174" height="22.7"/><text x="36" y="3141.1">channel_system</text>
<rect class="ft" x="32.3" y="3148.5" width="58" height="22.5"/><text x="36.5" y="3163.5">&lt; 1</text>
<rect class="ft" x="90.3" y="3148.5" width="60" height="22.5"/><text x="94.3" y="3163.5">12 rows</text>
<rect class="ft" x="150.3" y="3148.5" width="56" height="22.5"/><text class="r" x="205" y="3163.5">14 &gt;</text>
</g>

<g id="hubloc">
<rect class="hd" x="272.3" y="2127.6" width="178" height="23.7"/><text class="c" x="361.3" y="2143">hubloc</text>
<rect class="pk" x="272.3" y="2151.3" width="178" height="22.7"/><text x="276" y="2166.6">hubloc_id</text>
<rect class="ix" x="272.3" y="2174" width="178" height="22.6"/><text x="276" y="2189.3">hubloc_guid</text>
<rect class="pl" x="272.3" y="2196.6" width="178" height="22.7"/><text x="276" y="2211.9">hubloc_guid_sig</text>
<rect class="pl" x="272.3" y="2219.3" width="178" height="22.7"/><text x="276" y="2234.6">hubloc_hash</text>
<rect class="ix" x="272.3" y="2242" width="178" height="22.7"/><text x="276" y="2257.3">hubloc_addr</text>
<rect class="ix" x="272.3" y="2264.7" width="178" height="22.6"/><text x="276" y="2280">hubloc_network</text>
<rect class="ix" x="272.3" y="2287.3" width="178" height="22.7"/><text x="276" y="2302.6">hubloc_flags</text>
<rect class="ix" x="272.3" y="2310" width="178" height="22.7"/><text x="276" y="2325.3">hubloc_status</text>
<rect class="ix" x="272.3" y="2332.7" width="178" height="22.6"/><text x="276" y="2348">hubloc_url</text>
<rect class="pl" x="272.3" y="2355.3" width="178" height="22.7"/><text x="276" y="2370.6">hubloc_url_sig</text>
<rect class="ix" x="272.3" y="2378" width="178" height="22.7"/><text x="276" y="2393.3">hubloc_host</text>
<rect class="pl" x="272.3" y="2400.7" width="178" height="22.6"/><text x="276" y="2416">hubloc_callback</text>
<rect class="ix" x="272.3" y="2423.3" width="178" height="22.7"/><text x="276" y="2438.6">hubloc_connect</text>
<rect class="pl" x="272.3" y="2446" width="178" height="22.7"/><text x="276" y="2461.3">hubloc_sitekey</text>
<rect class="ix" x="272.3" y="2468.7" width="178" height="22.7"/><text x="276" y="2484">hubloc_updated</text>
<rect class="ix" x="272.3" y="2491.4" width="178" height="22.6"/><text x="276" y="2506.7">hubloc_connected</text>
<rect class="ix" x="272.3" y="2514" width="178" height="22.7"/><text x="276" y="2529.3">hubloc_primary</text>
<rect class="ix" x="272.3" y="2536.7" width="178" height="22.7"/><text x="276" y="2552">hubloc_orphancheck</text>
<rect class="ix" x="272.3" y="2559.4" width="178" height="22.6"/><text x="276" y="2574.7">hubloc_error</text>
<rect class="ix" x="272.3" y="2582" width="178" height="22.7"/><text x="276" y="2597.3">hubloc_deleted</text>
<rect class="ft" x="272.3" y="2604.7" width="50" height="22.3"/><text x="276.5" y="2619.8">&lt; 3</text>
<rect class="ft" x="322.3" y="2604.7" width="80" height="22.3"/><text x="326.3" y="2619.8">2 658 rows</text>
<rect class="ft" x="402.3" y="2604.7" width="48" height="22.3"/><text class="r" x="449" y="2619.8">14 &gt;</text>
</g>

<text x="16" y="3211">Generated by SchemaSpy</text>
</svg>
